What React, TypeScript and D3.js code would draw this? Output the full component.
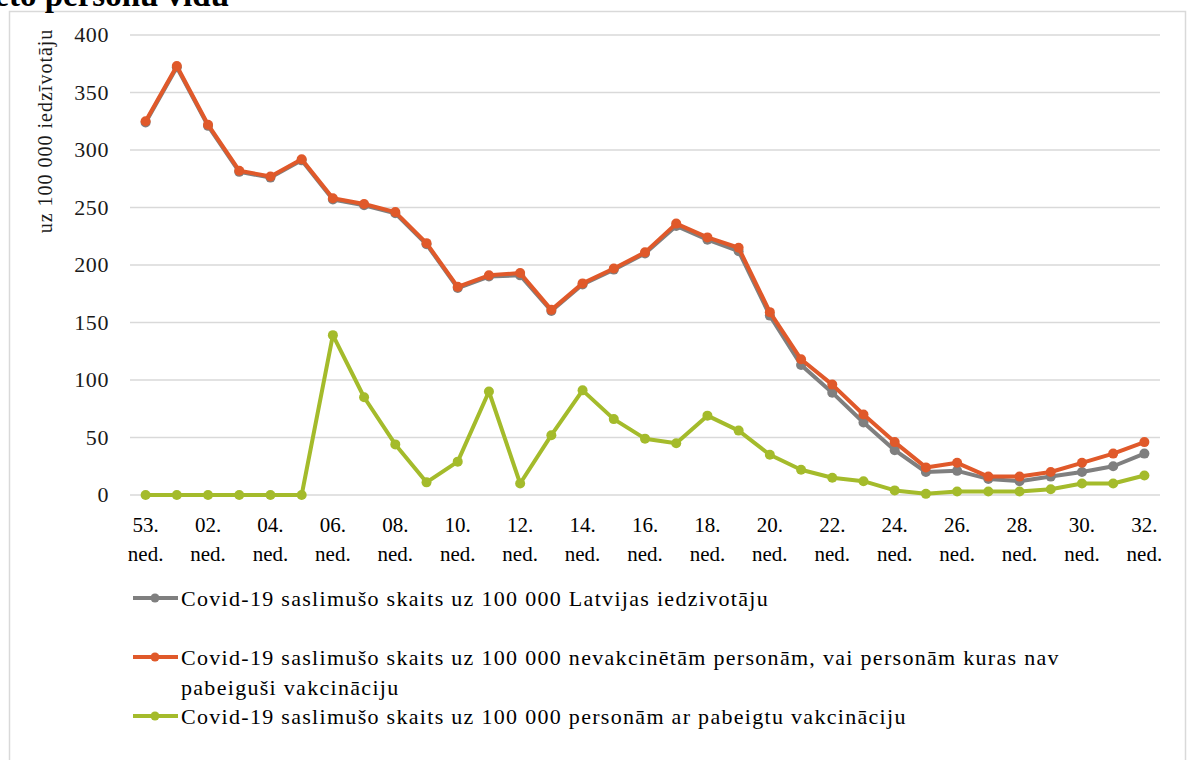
import React from "react";
import * as d3 from "d3";

const weeks = [
  "53.", "01.", "02.", "03.", "04.", "05.", "06.", "07.", "08.", "09.", "10.",
  "11.", "12.", "13.", "14.", "15.", "16.", "17.", "18.", "19.", "20.", "21.",
  "22.", "23.", "24.", "25.", "26.", "27.", "28.", "29.", "30.", "31.", "32.",
];

const allPopulation = [
  324, 372, 321, 281, 276, 291, 257, 252, 245, 218, 180, 190, 191, 160, 183,
  196, 210, 234, 222, 212, 156, 113, 89, 63, 39, 20, 21, 14, 12, 16, 20, 25, 36,
];

const unvaccinated = [
  325, 373, 322, 282, 277, 292, 258, 253, 246, 219, 181, 191, 193, 161, 184,
  197, 211, 236, 224, 215, 159, 118, 96, 70, 46, 24, 28, 16, 16, 20, 28, 36, 46,
];

const vaccinated = [
  0, 0, 0, 0, 0, 0, 139, 85, 44, 11, 29, 90, 10, 52, 91, 66, 49, 45, 69, 56, 35,
  22, 15, 12, 4, 1, 3, 3, 3, 5, 10, 10, 17,
];

const yTicks = [0, 50, 100, 150, 200, 250, 300, 350, 400];

const series = [
  {
    name: "all",
    lines: ["Covid-19 saslimušo skaits uz 100 000 Latvijas iedzivotāju"],
    values: allPopulation,
    color: "#7f7f7f",
  },
  {
    name: "unvaccinated",
    lines: [
      "Covid-19 saslimušo skaits uz 100 000 nevakcinētām personām, vai personām kuras nav",
      "pabeiguši vakcināciju",
    ],
    values: unvaccinated,
    color: "#e0592a",
  },
  {
    name: "vaccinated",
    lines: ["Covid-19 saslimušo skaits uz 100 000 personām ar pabeigtu vakcināciju"],
    values: vaccinated,
    color: "#a4bb2b",
  },
];

const W = 1188;
const H = 760;
const font = "'Liberation Serif', 'Times New Roman', serif";

export default function App() {
  const x = d3.scalePoint<string>().domain(weeks).range([130, 1160]).padding(0.5);
  const y = d3.scaleLinear().domain([0, 400]).range([495, 35]);
  const line = d3
    .line<number>()
    .x((_, i) => x(weeks[i]) as number)
    .y((d) => y(d));

  const legendY = [598, 657, 716];

  return (
    <div style={{ position: "absolute", left: 0, top: 0 }}>
      <svg width={W} height={H} style={{ display: "block", background: "#fff" }}>
        <rect x={9.5} y={11.5} width={1176} height={760} fill="#fff" stroke="#d9d9d9" strokeWidth={1.5} />
        <text x={229} y={6} textAnchor="end" fontFamily={font} fontWeight="bold" fontSize={33} fill="#000">
          vakcinēto personu vidū
        </text>

        {yTicks.map((t) => (
          <g key={t}>
            <line x1={130} x2={1160} y1={y(t)} y2={y(t)} stroke="#d9d9d9" strokeWidth={1.5} />
            <text x={109} y={y(t)} dy="0.33em" textAnchor="end" fontFamily={font} fontSize={22} letterSpacing={0.6} fill="#1a1a1a">
              {t}
            </text>
          </g>
        ))}

        <text
          transform="translate(52,131) rotate(-90)"
          textAnchor="middle"
          fontFamily={font}
          fontSize={20}
          letterSpacing={1}
          fill="#1a1a1a"
        >
          uz 100 000 iedzīvotāju
        </text>

        {weeks.map((w, i) =>
          i % 2 === 0 ? (
            <text key={w} x={x(w)} y={532} textAnchor="middle" fontFamily={font} fontSize={21} fill="#000">
              <tspan x={x(w)} dy={0}>{w}</tspan>
              <tspan x={x(w)} dy={29}>ned.</tspan>
            </text>
          ) : null
        )}

        {series.map((s) => (
          <g key={s.name}>
            <path d={line(s.values) ?? ""} fill="none" stroke={s.color} strokeWidth={4} strokeLinejoin="round" />
            {s.values.map((v, i) => (
              <circle key={i} cx={x(weeks[i])} cy={y(v)} r={5} fill={s.color} />
            ))}
          </g>
        ))}

        {series.map((s, k) => (
          <g key={"lg" + k}>
            <line x1={133} x2={178} y1={legendY[k]} y2={legendY[k]} stroke={s.color} strokeWidth={4} />
            <circle cx={155} cy={legendY[k]} r={4.5} fill={s.color} />
            {s.lines.map((l, j) => (
              <text key={j} x={181} y={legendY[k] + 8 + j * 30} fontFamily={font} fontSize={22} letterSpacing={1.3} fill="#000">
                {l}
              </text>
            ))}
          </g>
        ))}
      </svg>
    </div>
  );
}
